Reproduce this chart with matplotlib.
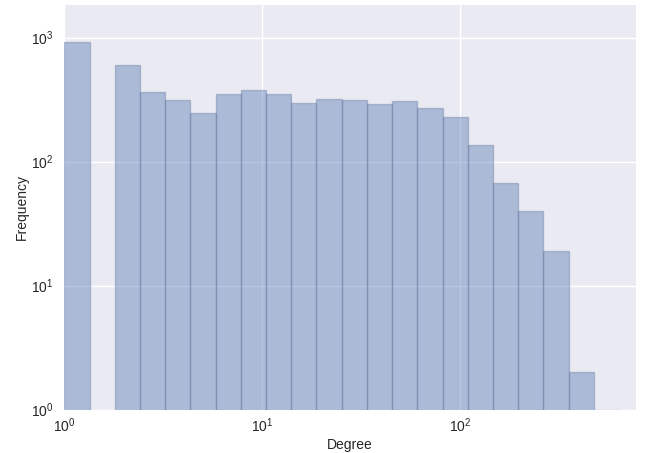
import numpy as np
import matplotlib
matplotlib.use('Agg')
import matplotlib.pyplot as plt

# counts per log-spaced degree bin
counts = [925, 0, 597, 363, 313, 245, 350, 379, 350, 296, 321,
          312, 293, 306, 270, 228, 136, 67, 40, 19, 2, 1]
max_degree = 633
edges = np.logspace(0, np.log10(max_degree), len(counts) + 1)

plt.rcParams['font.family'] = ['Liberation Sans', 'DejaVu Sans']
plt.rcParams['mathtext.default'] = 'regular'

fig = plt.figure(figsize=(6.49, 4.53), dpi=100)
ax = fig.add_axes([64.3/649, 1-409.5/453, (636-64.3)/649, (409.5-5)/453])
ax.set_facecolor('#EAEAF2')
for s in ax.spines.values():
    s.set_visible(False)
ax.grid(True, color='white', linewidth=1, zorder=0)
ax.set_axisbelow(True)

ax.hist(edges[:-1], bins=edges, weights=counts, color='#4C72B0', alpha=0.4,
        edgecolor='#6a7a9e', linewidth=1)

ax.set_xscale('log')
ax.set_yscale('log')
ax.set_xlim(1, 771)
ax.set_ylim(1, 1830)
ax.minorticks_off()
ax.tick_params(length=0, labelsize=10, colors='#262626')
ax.tick_params(axis='x', pad=5)
ax.tick_params(axis='y', pad=7.5)
ax.set_xlabel('Degree', fontsize=10, color='#262626', labelpad=2)
ax.set_ylabel('Frequency', fontsize=10, color='#262626', labelpad=2)

fig.savefig('out.png', dpi=100)
